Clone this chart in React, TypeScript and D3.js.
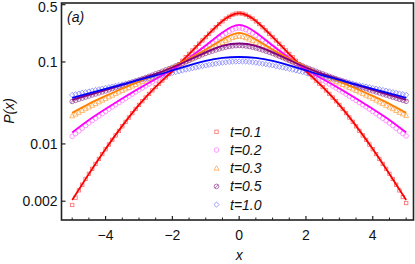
import React from "react";
import * as d3 from "d3";

// x grid of the solid (theory) curves
const xLine = [-5, -4.5, -4, -3.5, -3, -2.5, -2, -1.5, -1, -0.5, 0, 0.5, 1, 1.5, 2, 2.5, 3, 3.5, 4, 4.5, 5];

const lineT01 = [0.00207, 0.00431, 0.00869, 0.0166, 0.0299, 0.0496, 0.0776, 0.125, 0.202, 0.316, 0.393, 0.316, 0.202, 0.125, 0.0776, 0.0496, 0.0299, 0.0166, 0.00869, 0.00431, 0.00207];
const lineT02 = [0.0138, 0.0196, 0.0267, 0.0359, 0.0475, 0.0621, 0.081, 0.112, 0.159, 0.229, 0.283, 0.229, 0.159, 0.112, 0.081, 0.0621, 0.0475, 0.0359, 0.0267, 0.0196, 0.0138];
const lineT03 = [0.0239, 0.0308, 0.0385, 0.0475, 0.0578, 0.0704, 0.0869, 0.11, 0.142, 0.188, 0.226, 0.188, 0.142, 0.11, 0.0869, 0.0704, 0.0578, 0.0475, 0.0385, 0.0308, 0.0239];
const lineT05 = [0.0344, 0.0396, 0.0456, 0.0524, 0.0612, 0.0714, 0.0857, 0.106, 0.131, 0.157, 0.168, 0.157, 0.131, 0.106, 0.0857, 0.0714, 0.0612, 0.0524, 0.0456, 0.0396, 0.0344];
const lineT10 = [0.0364, 0.0413, 0.0469, 0.0532, 0.0603, 0.0684, 0.0788, 0.0906, 0.103, 0.112, 0.115, 0.112, 0.103, 0.0906, 0.0788, 0.0684, 0.0603, 0.0532, 0.0469, 0.0413, 0.0364];

// x grid of the symbols (simulation)
const xMark = [
  -5, -4.9, -4.8, -4.7, -4.6, -4.5, -4.4, -4.3, -4.2, -4.1, -4, -3.9, -3.8, -3.7, -3.6, -3.5, -3.4, -3.3, -3.2, -3.1,
  -3, -2.9, -2.8, -2.7, -2.6, -2.5, -2.4, -2.3, -2.2, -2.1, -2, -1.9, -1.8, -1.7, -1.6, -1.5, -1.4, -1.3, -1.2, -1.1,
  -1, -0.9, -0.8, -0.7, -0.6, -0.5, -0.4, -0.3, -0.2, -0.1, 0,
  0.1, 0.2, 0.3, 0.4, 0.5, 0.6, 0.7, 0.8, 0.9, 1, 1.1, 1.2, 1.3, 1.4, 1.5, 1.6, 1.7, 1.8, 1.9, 2,
  2.1, 2.2, 2.3, 2.4, 2.5, 2.6, 2.7, 2.8, 2.9, 3, 3.1, 3.2, 3.3, 3.4, 3.5, 3.6, 3.7, 3.8, 3.9, 4,
  4.1, 4.2, 4.3, 4.4, 4.5, 4.6, 4.7, 4.8, 4.9, 5];

const markT01 = [
  0.0018, 0.00221, 0.00271, 0.00318, 0.00374, 0.00431, 0.00496, 0.0057, 0.00656, 0.00752, 0.00862, 0.00983, 0.0112, 0.0127, 0.0144, 0.0164, 0.0186, 0.021, 0.0238, 0.0267,
  0.0299, 0.0332, 0.0368, 0.0407, 0.045, 0.0494, 0.0542, 0.0593, 0.0649, 0.0711, 0.0778, 0.0853, 0.0936, 0.1033, 0.114, 0.1254, 0.138, 0.1518, 0.167, 0.1832,
  0.201, 0.221, 0.243, 0.2655, 0.29, 0.3131, 0.338, 0.357, 0.377, 0.389, 0.393,
  0.389, 0.377, 0.357, 0.338, 0.3131, 0.29, 0.2655, 0.243, 0.221, 0.201, 0.1832, 0.167, 0.1518, 0.138, 0.1254, 0.114, 0.1033, 0.0936, 0.0853, 0.0778,
  0.0711, 0.0649, 0.0593, 0.0542, 0.0494, 0.045, 0.0407, 0.0368, 0.0332, 0.0299, 0.0267, 0.0238, 0.021, 0.0186, 0.0164, 0.0144, 0.0127, 0.0112, 0.00983, 0.00862,
  0.00752, 0.00656, 0.0057, 0.00496, 0.00431, 0.00374, 0.00318, 0.00271, 0.00225, 0.0019];
const markT02 = [
  0.01237, 0.01333, 0.01436, 0.01552, 0.01677, 0.018, 0.01922, 0.02053, 0.02192, 0.02336, 0.0249, 0.0266, 0.0283, 0.0301, 0.0319, 0.0339, 0.036, 0.0382, 0.0405, 0.043,
  0.0456, 0.0482, 0.0509, 0.0539, 0.057, 0.0603, 0.0638, 0.0675, 0.0714, 0.0756, 0.08, 0.0849, 0.09, 0.0957, 0.1017, 0.1088, 0.1163, 0.1242, 0.1327, 0.1421,
  0.1522, 0.1627, 0.1739, 0.1858, 0.1985, 0.211, 0.2241, 0.2357, 0.2474, 0.2555, 0.2603,
  0.2555, 0.2474, 0.2357, 0.2241, 0.211, 0.1985, 0.1858, 0.1739, 0.1627, 0.1522, 0.1421, 0.1327, 0.1242, 0.1163, 0.1088, 0.1017, 0.0957, 0.09, 0.0849, 0.08,
  0.0756, 0.0714, 0.0675, 0.0638, 0.0603, 0.057, 0.0539, 0.0509, 0.0482, 0.0456, 0.043, 0.0405, 0.0382, 0.036, 0.0339, 0.0319, 0.0301, 0.0283, 0.0266, 0.0249,
  0.02336, 0.02192, 0.02053, 0.01922, 0.018, 0.01677, 0.01552, 0.01436, 0.01338, 0.0125];
const markT03 = [
  0.022, 0.0231, 0.0243, 0.0256, 0.0269, 0.0282, 0.0296, 0.0311, 0.0326, 0.0342, 0.0359, 0.0376, 0.0393, 0.0411, 0.043, 0.0449, 0.0469, 0.0489, 0.0509, 0.0531,
  0.0554, 0.0578, 0.0603, 0.0629, 0.0656, 0.0684, 0.0712, 0.0744, 0.0776, 0.0811, 0.0846, 0.0885, 0.0925, 0.0968, 0.1011, 0.106, 0.1112, 0.1166, 0.122, 0.128,
  0.134, 0.1415, 0.1493, 0.157, 0.1647, 0.1733, 0.1819, 0.1898, 0.198, 0.2035, 0.2071,
  0.2035, 0.198, 0.1898, 0.1819, 0.1733, 0.1647, 0.157, 0.1493, 0.1415, 0.134, 0.128, 0.122, 0.1166, 0.1112, 0.106, 0.1011, 0.0968, 0.0925, 0.0885, 0.0846,
  0.0811, 0.0776, 0.0744, 0.0712, 0.0684, 0.0656, 0.0629, 0.0603, 0.0578, 0.0554, 0.0531, 0.0509, 0.0489, 0.0469, 0.0449, 0.043, 0.0411, 0.0393, 0.0376, 0.0359,
  0.0342, 0.0326, 0.0311, 0.0296, 0.0282, 0.0269, 0.0256, 0.0243, 0.0232, 0.0222];
const markT05 = [
  0.033, 0.034, 0.0351, 0.0362, 0.0373, 0.0384, 0.0396, 0.0407, 0.0419, 0.0431, 0.0443, 0.0457, 0.0472, 0.0486, 0.0501, 0.0517, 0.0533, 0.055, 0.0567, 0.0585,
  0.0603, 0.0624, 0.0645, 0.0667, 0.069, 0.0715, 0.074, 0.0769, 0.0798, 0.0828, 0.0858, 0.0893, 0.0928, 0.0965, 0.1003, 0.1045, 0.1088, 0.1132, 0.1176, 0.1224,
  0.1273, 0.1316, 0.1358, 0.1401, 0.1443, 0.148, 0.1518, 0.1544, 0.157, 0.1582, 0.1588,
  0.1582, 0.157, 0.1544, 0.1518, 0.148, 0.1443, 0.1401, 0.1358, 0.1316, 0.1273, 0.1224, 0.1176, 0.1132, 0.1088, 0.1045, 0.1003, 0.0965, 0.0928, 0.0893, 0.0858,
  0.0828, 0.0798, 0.0769, 0.074, 0.0715, 0.069, 0.0667, 0.0645, 0.0624, 0.0603, 0.0585, 0.0567, 0.055, 0.0533, 0.0517, 0.0501, 0.0486, 0.0472, 0.0457, 0.0443,
  0.0431, 0.0419, 0.0407, 0.0396, 0.0384, 0.0373, 0.0362, 0.0351, 0.0341, 0.0331];
const markT10 = [
  0.0396, 0.0404, 0.0412, 0.042, 0.0428, 0.0437, 0.0446, 0.0455, 0.0464, 0.0473, 0.0482, 0.0491, 0.0501, 0.0511, 0.0521, 0.0532, 0.0543, 0.0556, 0.0569, 0.0582,
  0.0595, 0.0608, 0.0622, 0.0636, 0.0651, 0.0665, 0.0679, 0.0692, 0.0706, 0.072, 0.0734, 0.0751, 0.0769, 0.0787, 0.0805, 0.0822, 0.0839, 0.0855, 0.0872, 0.0889,
  0.0907, 0.0922, 0.0938, 0.0953, 0.0968, 0.0979, 0.0991, 0.1, 0.1009, 0.1012, 0.1014,
  0.1012, 0.1009, 0.1, 0.0991, 0.0979, 0.0968, 0.0953, 0.0938, 0.0922, 0.0907, 0.0889, 0.0872, 0.0855, 0.0839, 0.0822, 0.0805, 0.0787, 0.0769, 0.0751, 0.0734,
  0.072, 0.0706, 0.0692, 0.0679, 0.0665, 0.0651, 0.0636, 0.0622, 0.0608, 0.0595, 0.0582, 0.0569, 0.0556, 0.0543, 0.0532, 0.0521, 0.0511, 0.0501, 0.0491, 0.0482,
  0.0473, 0.0464, 0.0455, 0.0446, 0.0437, 0.0428, 0.042, 0.0412, 0.0405, 0.0397];

const legendLabels = ["t=0.1", "t=0.2", "t=0.3", "t=0.5", "t=1.0"];
const yTicks = [0.5, 0.1, 0.01, 0.002];
const yTickLabels = ["0.5", "0.1", "0.01", "0.002"];
const xMajor = [-4, -2, 0, 2, 4];
const xMajorLabels = ["\u22124", "\u22122", "0", "2", "4"];
const xMinor = [-5, -4.5, -3.5, -3, -2.5, -1.5, -1, -0.5, 0.5, 1, 1.5, 2.5, 3, 3.5, 4.5, 5];

const series = [
  { label: legendLabels[0], line: lineT01, marks: markT01, color: "#ff0000", mcolor: "#ff6a6a", shape: "square" },
  { label: legendLabels[1], line: lineT02, marks: markT02, color: "#ff00ff", mcolor: "#ff80ff", shape: "circle" },
  { label: legendLabels[2], line: lineT03, marks: markT03, color: "#ff8000", mcolor: "#ffa850", shape: "triangle" },
  { label: legendLabels[3], line: lineT05, marks: markT05, color: "#800080", mcolor: "#a050a0", shape: "slash" },
  { label: legendLabels[4], line: lineT10, marks: markT10, color: "#0000ff", mcolor: "#8080ff", shape: "diamond" },
];

const FONT = "'Liberation Sans', Arial, Helvetica, sans-serif";

function Marker({ shape, cx, cy, color }: { shape: string; cx: number; cy: number; color: string }) {
  const sw = 0.8;
  if (shape === "square") {
    const s = 1.7;
    return <rect x={cx - s} y={cy - s} width={2 * s} height={2 * s} fill="none" stroke={color} strokeWidth={sw} />;
  }
  if (shape === "circle") {
    return <circle cx={cx} cy={cy} r={2.3} fill="none" stroke={color} strokeWidth={sw} />;
  }
  if (shape === "triangle") {
    const s = 2.5;
    return <path d={`M${cx},${cy - s}L${cx + s},${cy + s * 0.8}L${cx - s},${cy + s * 0.8}Z`} fill="none" stroke={color} strokeWidth={sw} />;
  }
  if (shape === "slash") {
    const r = 2.3;
    return (
      <g>
        <circle cx={cx} cy={cy} r={r} fill="none" stroke={color} strokeWidth={sw} />
        <line x1={cx - r * 0.75} y1={cy + r * 0.75} x2={cx + r * 0.75} y2={cy - r * 0.75} stroke={color} strokeWidth={sw} />
      </g>
    );
  }
  const s = 2.6;
  return <path d={`M${cx},${cy - s}L${cx + s},${cy}L${cx},${cy + s}L${cx - s},${cy}Z`} fill="none" stroke={color} strokeWidth={sw} />;
}

export default function App() {
  const W = 415, H = 264;
  const left = 61.5, right = 413.5, top = 3, bottom = 220;
  const x = d3.scaleLinear().domain([-5.32, 5.22]).range([left, right]);
  const y = d3.scaleLog().domain([0.00118, 0.524]).range([bottom, top]);
  const lineGen = d3.line<[number, number]>().x((d) => x(d[0])).y((d) => y(d[1])).curve(d3.curveNatural);

  const legX = 216.5, legTextX = 230, legY0 = 131.8, legDy = 18.2;

  return (
    <svg width={W} height={H} style={{ position: "absolute", left: 0, top: 0, background: "#fff" }} fontFamily={FONT}>
      <rect x={0} y={0} width={W} height={H} fill="#fff" />
      {/* markers */}
      {series.map((s, si) => (
        <g key={"m" + si}>
          {s.marks.slice(0, xMark.length).map((v, i) => (
            <Marker key={i} shape={s.shape} cx={x(xMark[i])} cy={y(v)} color={s.mcolor} />
          ))}
        </g>
      ))}
      {/* lines */}
      {series.map((s, si) => (
        <path key={"l" + si} d={lineGen(xLine.map((xv, i) => [xv, s.line[i]]) as [number, number][]) || ""} fill="none" stroke={s.color} strokeWidth={1.8} />
      ))}
      {/* frame */}
      <rect x={left} y={top} width={right - left} height={bottom - top} fill="none" stroke="#222" strokeWidth={1.6} />
      {/* y ticks */}
      {yTicks.map((t, i) => (
        <g key={"yt" + i}>
          <line x1={left} x2={left + 4} y1={y(t)} y2={y(t)} stroke="#222" strokeWidth={1.2} />
          <text x={left - 4} y={Math.max(y(t), 6.8)} dy="0.36em" textAnchor="end" fontSize={14} fill="#111">{yTickLabels[i]}</text>
        </g>
      ))}
      {/* x ticks */}
      {xMajor.map((t, i) => (
        <g key={"xt" + i}>
          <line x1={x(t)} x2={x(t)} y1={bottom} y2={bottom - 4} stroke="#222" strokeWidth={1.2} />
          <text x={x(t)} y={bottom + 20} textAnchor="middle" fontSize={14} fill="#111">{xMajorLabels[i]}</text>
        </g>
      ))}
      {xMinor.map((t, i) => (
        <line key={"xm" + i} x1={x(t)} x2={x(t)} y1={bottom} y2={bottom - 2.5} stroke="#222" strokeWidth={1} />
      ))}
      {/* axis labels */}
      <text x={x(0)} y={260} textAnchor="middle" fontSize={14} fontStyle="italic" fill="#111">x</text>
      <text transform="translate(14,111) rotate(-90)" textAnchor="middle" fontSize={14} fontStyle="italic" fill="#111">P(x)</text>
      <text x={67} y={22} fontSize={14} fontStyle="italic" fill="#111">(a)</text>
      {/* legend */}
      {series.map((s, i) => (
        <g key={"lg" + i}>
          <Marker shape={s.shape} cx={legX} cy={legY0 + i * legDy} color={s.mcolor} />
          <text x={legTextX} y={legY0 + i * legDy} dy="0.36em" fontSize={14} fontStyle="italic" fill="#111">{s.label}</text>
        </g>
      ))}
    </svg>
  );
}
